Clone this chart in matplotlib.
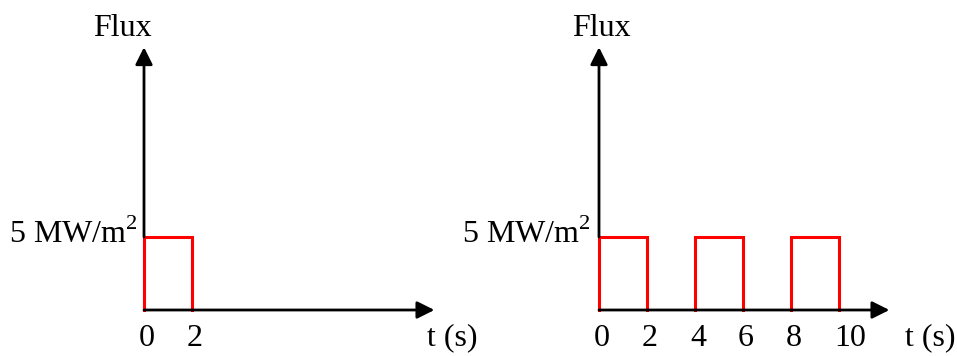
import matplotlib
matplotlib.use("Agg")
import matplotlib.pyplot as plt

# data
pulse_width = 2
flux_level = 5
left_starts = [0]
right_starts = [0, 4, 8]
left_ticks = [0, 2]
right_ticks = [0, 2, 4, 6, 8, 10]
flux_label = "5 MW/m$^2$"

plt.rcParams['font.family'] = ['Liberation Serif', 'DejaVu Serif']
plt.rcParams['mathtext.fontset'] = 'custom'
plt.rcParams['mathtext.rm'] = 'Liberation Serif'

W, H = 957, 356
fig = plt.figure(figsize=(W / 100, H / 100), dpi=100)

px_x = 24.0      # pixels per second
px_y = 14.6      # pixels per MW/m2
x_axis_pix = 310  # from top


def panel(left_pix, right_pix, origin_pix, starts, ticks, flux_x, label_right, t_x):
    ax = fig.add_axes([left_pix / W, 0, (right_pix - left_pix) / W, 1])
    ax.set_xlim((left_pix - origin_pix) / px_x, (right_pix - origin_pix) / px_x)
    ax.set_ylim((x_axis_pix - H) / px_y, x_axis_pix / px_y)
    ax.axis('off')
    ax.patch.set_alpha(0)

    # red pulses (no red along the baseline)
    for s in starts:
        ax.plot([s, s, s + pulse_width, s + pulse_width],
                [0, flux_level, flux_level, 0],
                color='#ff0000', lw=2.2, solid_joinstyle='miter', zorder=1)

    arrow = dict(arrowstyle='-|>', mutation_scale=26, lw=2.0, color='black',
                 shrinkA=0, shrinkB=0)
    ax.annotate('', xy=(12.1, 0), xytext=(0, 0), arrowprops=arrow, zorder=2)
    ax.annotate('', xy=(0, 18.0), xytext=(0, flux_level), arrowprops=arrow, zorder=2)

    for t in ticks:
        off = 0.45 if t >= 10 else 0.12
        ax.text(t + off, -1.92, str(t), ha='center', va='center', fontsize=23)

    ax.text(flux_x, 19.3, "Flux", ha='center', va='center', fontsize=23)
    ax.text(label_right, 5.15, flux_label, ha='right', va='center', fontsize=23)
    ax.text(t_x, -1.92, "t (s)", ha='center', va='center', fontsize=23)
    return ax


panel(0, 480, 144, left_starts, left_ticks, -0.92, -0.25, 12.83)
panel(480, 957, 599, right_starts, right_ticks, 0.08, -0.33, 13.79)

fig.savefig("out.png", dpi=100)
